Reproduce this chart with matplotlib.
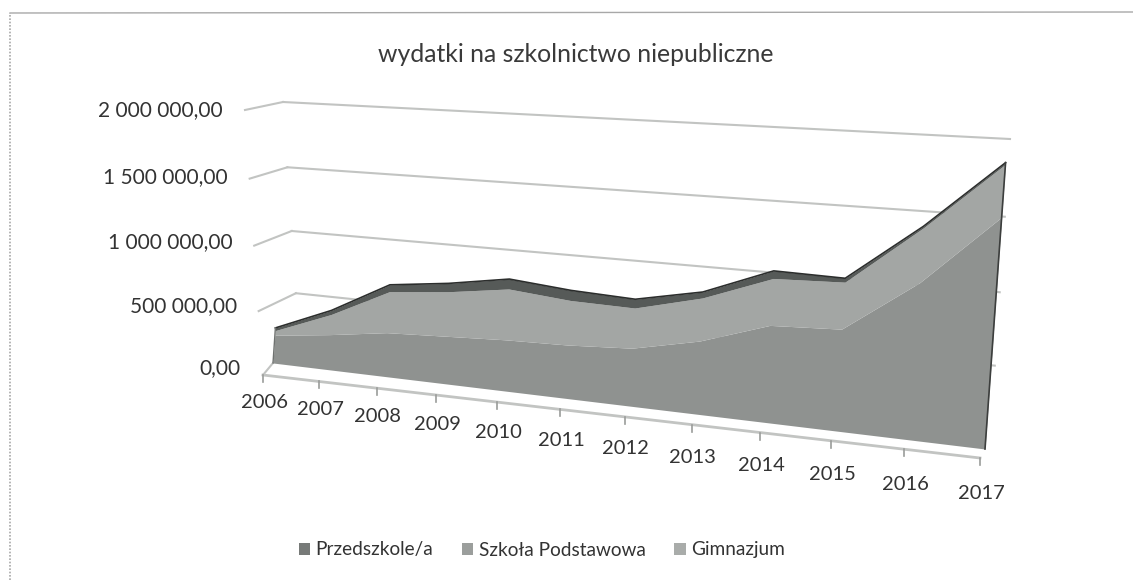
import numpy as np
import matplotlib
matplotlib.use("Agg")
import matplotlib.pyplot as plt
from matplotlib.transforms import Transform

plt.rcParams['font.family'] = ['Lato', 'DejaVu Sans']

title = "wydatki na szkolnictwo niepubliczne"
years = [2006, 2007, 2008, 2009, 2010, 2011, 2012, 2013, 2014, 2015, 2016, 2017]
grid_values = [0, 500000, 1000000, 1500000, 2000000]
grid_labels = ["0,00", "500 000,00", "1 000 000,00", "1 500 000,00", "2 000 000,00"]

# stacked series
przedszkole = [210000, 260000, 320000, 340000, 360000, 370000, 395000, 490000, 640000, 660000, 1000000, 1450000]
podstawowa = [35000, 150000, 300000, 320000, 360000, 310000, 275000, 290000, 310000, 305000, 350000, 330000]
gimnazjum = [20000, 30000, 50000, 60000, 70000, 70000, 60000, 40000, 50000, 25000, 10000, 10000]


class Persp(Transform):
    # (category index, value) -> picture pixels, fixed by the four corners of a plane
    input_dims = 2
    output_dims = 2
    is_separable = False
    has_inverse = False

    def __init__(self, left0, left2m, right2m, right0):
        super().__init__()
        src = [(0, 0), (0, 2e6), (11, 2e6), (11, 0)]
        dst = [left0, left2m, right2m, right0]
        A, b = [], []
        for (u, v), (x, y) in zip(src, dst):
            u, v = u / 11, v / 2e6
            A.append([u, v, 1, 0, 0, 0, -u * x, -v * x])
            A.append([0, 0, 0, u, v, 1, -u * y, -v * y])
            b += [x, y]
        self.h = np.append(np.linalg.solve(np.array(A, float), np.array(b, float)), 1).reshape(3, 3)

    def transform_non_affine(self, values):
        pts = np.asarray(values, float)
        p = np.column_stack([pts[:, 0] / 11, pts[:, 1] / 2e6, np.ones(len(pts))]) @ self.h.T
        return p[:, :2] / p[:, 2:]


fig = plt.figure(figsize=(11.33, 5.8), dpi=100)
ax = fig.add_axes([0, 0, 1, 1])
ax.set_axis_off()

back = Persp((300, 354), (283, 102), (1010, 139), (990, 437))
area = Persp((273, 363), (291, 98), (1008, 129), (985, 449))
front = Persp((263, 375), (245, 110), (1000, 148), (980, 458))

idx = np.arange(len(years))
s1 = np.array(przedszkole)
s2 = s1 + np.array(podstawowa)
s3 = s2 + np.array(gimnazjum)

# walls
grid_col = "#c2c4c2"
for v in grid_values[1:]:
    ax.plot([0, 11], [v, v], color=grid_col, lw=1.5, transform=back + ax.transData, zorder=1)
    p0 = front.transform([(0, v)])[0]
    p1 = back.transform([(0, v)])[0]
    ax.plot([p0[0], p1[0]], [p0[1], p1[1]], color=grid_col, lw=1.5, zorder=1)
for v, lab in zip(grid_values, grid_labels):
    p = front.transform([(0, v)])[0]
    ax.text(p[0] - 22, p[1] - 7 * (1 - v / 2e6), lab, ha="right", va="center", fontsize=15, color="#333333")

# areas
tr = area + ax.transData
ax.fill_between(idx, 0, s1, color="#8f9290", lw=0, transform=tr, zorder=3, label="Przedszkole/a")
ax.fill_between(idx, s1, s2, color="#a3a6a4", lw=0, transform=tr, zorder=3, label="Szkoła Podstawowa")
ax.fill_between(idx, s2, s3, color="#565a58", lw=0, transform=tr, zorder=3, label="Gimnazjum")
ax.plot(idx, s3, color="#2c2e2d", lw=1.2, transform=tr, zorder=4)
ax.plot([11, 11], [0, s3[-1]], color="#3c3e3d", lw=1.2, transform=tr, zorder=4)
ax.plot([0, 0], [0, s3[0]], color="#6f7270", lw=1, transform=tr, zorder=4)

# floor axis
ax.plot([0, 11], [0, 0], color="#c2c4c2", lw=2, transform=front + ax.transData, zorder=2)
p0 = front.transform([(0, 0)])[0]
p1 = area.transform([(0, 0)])[0]
ax.plot([p0[0], p1[0]], [p0[1], p1[1]], color=grid_col, lw=1.5, zorder=2)
for i, yr in zip(idx, years):
    p = front.transform([(i, 0)])[0]
    ax.plot([p[0], p[0]], [p[1], p[1] + 7], color="#9a9c9a", lw=1.2, zorder=2)
    ax.text(p[0] + 1, p[1] + 27 + i * 0.8, str(yr), ha="center", va="center", fontsize=14.5, color="#333333")

ax.text(576, 54, title, ha="center", va="center", fontsize=17.8, color="#3a3a3a")

# frame of the chart object
ax.plot([10, 10], [580, 13], color="#a8a8a8", lw=1.2, ls=(0, (1, 1)))
ax.plot([10, 1133], [13, 12], color="#a8a8a8", lw=1)

handles, labels = ax.get_legend_handles_labels()
leg = ax.legend(handles, labels, ncol=3, frameon=False, loc="center", bbox_to_anchor=(542, 550),
                bbox_transform=ax.transData, fontsize=13.7, handlelength=0.6, handleheight=0.6,
                handletextpad=0.3, columnspacing=1.5, labelcolor="#333333")
leg.legend_handles[2].set_color("#a9acaa")
leg.legend_handles[1].set_color("#9b9e9c")
leg.legend_handles[0].set_color("#777a78")

ax.set_xlim(0, 1133)
ax.set_ylim(580, 0)
fig.savefig("out.png", dpi=100)
